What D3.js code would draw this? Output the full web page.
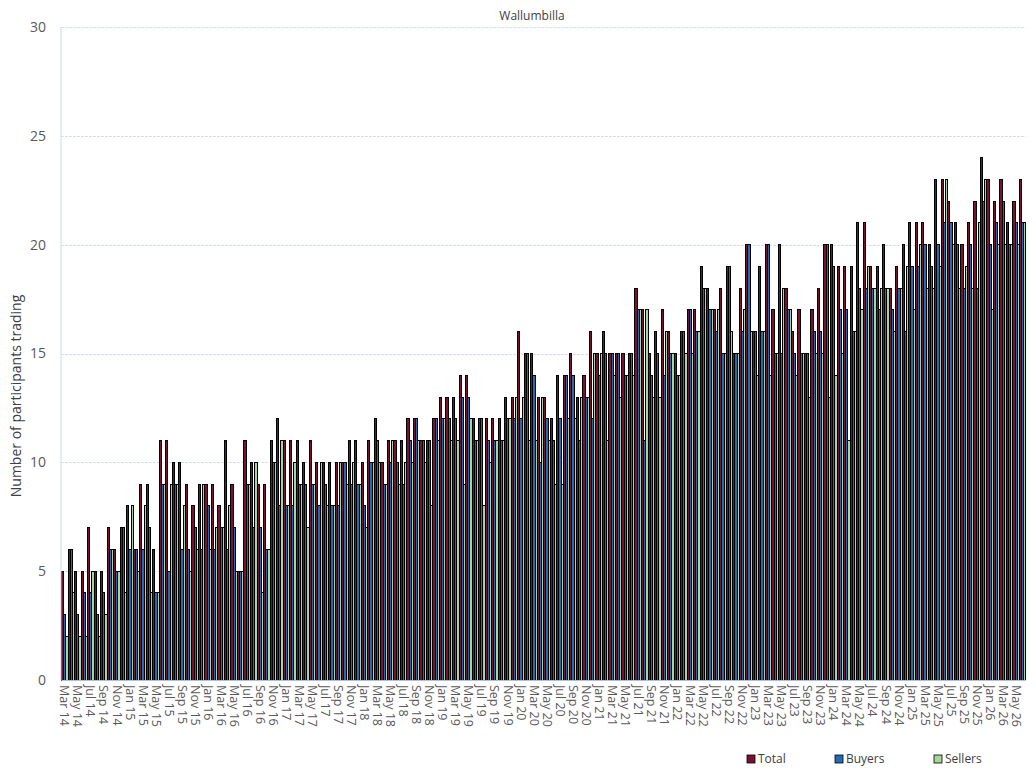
<!DOCTYPE html>
<html>
<head>
<meta charset="utf-8">
<script src="https://cdn.jsdelivr.net/npm/d3@7/dist/d3.min.js"></script>
<style>
  body { margin: 0; background: #fff; }
  text { font-family: "Open Sans", "Noto Sans", sans-serif; fill: #595959; }
</style>
</head>
<body>
<svg id="chart" width="1036" height="772"></svg>
<script>
// monthly participants trading, Mar 2014 .. Jun 2026
const startMonth = new Date(2014, 2, 1);
const total = [
  5, 6, 5, 5, 7, 5, 5, 7, 6, 7,
  8, 6, 9, 9, 6, 11, 11, 10, 10, 9,
  8, 9, 9, 9, 8, 11, 9, 5, 11, 10,
  9, 9, 11, 12, 11, 11, 11, 10, 11, 10,
  10, 10, 10, 10, 11, 11, 10, 11, 12, 10,
  11, 11, 11, 12, 12, 11, 11, 12, 13, 13,
  13, 14, 14, 12, 12, 12, 12, 12, 13, 13,
  16, 15, 15, 13, 13, 12, 14, 14, 15, 13,
  14, 16, 15, 16, 15, 15, 15, 15, 18, 17,
  15, 16, 17, 16, 15, 16, 17, 17, 19, 18,
  17, 18, 19, 15, 18, 20, 16, 19, 20, 17,
  20, 18, 16, 17, 15, 17, 18, 20, 20, 19,
  19, 19, 21, 21, 19, 19, 20, 18, 19, 20,
  21, 21, 21, 20, 23, 23, 22, 21, 20, 21,
  22, 24, 23, 22, 23, 21, 22, 23
];
const buyers = [
  3, 6, 3, 4, 4, 3, 4, 6, 5, 7,
  6, 6, 6, 7, 4, 9, 5, 9, 6, 6,
  7, 6, 8, 6, 7, 6, 7, 5, 9, 7,
  7, 6, 10, 8, 8, 8, 9, 9, 9, 8,
  9, 8, 8, 10, 9, 9, 8, 10, 11, 9,
  10, 10, 9, 11, 12, 11, 11, 12, 12, 12,
  12, 13, 13, 11, 12, 11, 11, 11, 12, 12,
  12, 15, 14, 10, 12, 11, 12, 14, 14, 11,
  13, 12, 14, 15, 15, 15, 14, 15, 17, 11,
  14, 15, 14, 15, 14, 16, 17, 16, 18, 17,
  16, 15, 19, 15, 16, 20, 16, 16, 20, 15,
  15, 17, 15, 15, 15, 16, 16, 20, 19, 17,
  17, 16, 18, 18, 18, 17, 18, 17, 18, 16,
  19, 19, 20, 19, 20, 21, 21, 20, 18, 20,
  18, 22, 20, 21, 22, 20, 21, 21
];
const sellers = [
  2, 4, 2, 2, 5, 2, 3, 6, 5, 4,
  8, 5, 8, 4, 4, 9, 9, 9, 8, 5,
  6, 9, 6, 7, 7, 8, 5, 5, 9, 10,
  4, 6, 10, 11, 8, 10, 9, 7, 9, 10,
  8, 8, 10, 9, 10, 9, 7, 10, 10, 9,
  11, 9, 10, 10, 11, 10, 8, 11, 12, 11,
  11, 9, 12, 11, 8, 10, 11, 11, 12, 13,
  13, 11, 11, 13, 11, 9, 9, 12, 12, 13,
  13, 15, 15, 11, 14, 13, 14, 14, 17, 17,
  13, 13, 16, 15, 14, 15, 15, 16, 18, 17,
  17, 15, 16, 15, 17, 16, 14, 16, 14, 15,
  18, 17, 14, 15, 13, 15, 15, 13, 14, 15,
  11, 16, 17, 19, 18, 18, 18, 16, 18, 19,
  17, 20, 18, 18, 19, 23, 20, 18, 19, 18,
  21, 23, 17, 20, 20, 20, 20, 21
];
const seriesNames = ["Total", "Buyers", "Sellers"];
const seriesColors = ["#7d1030", "#1f6db4", "#a6d69c"];
const yTicks = [0, 5, 10, 15, 20, 25, 30];

const fmt = d3.timeFormat("%b %y");
const months = total.map((_, i) => fmt(d3.timeMonth.offset(startMonth, i)));
const rows = months.map((m, i) => ({ month: m, values: [total[i], buyers[i], sellers[i]] }));

const svg = d3.select("#chart");
const plotLeft = 61.5, plotRight = 1026, plotTop = 27, plotBottom = 680;

const x0 = d3.scaleBand().domain(months).range([plotLeft, plotRight]).padding(0);
const x1 = d3.scaleBand().domain(seriesNames).range([0, x0.bandwidth()]).padding(0);
const y = d3.scaleLinear().domain([0, 30]).range([plotBottom, plotTop]);

// gridlines
svg.append("g")
  .selectAll("line")
  .data(yTicks.filter(t => t > 0))
  .join("line")
  .attr("x1", plotLeft).attr("x2", plotRight)
  .attr("y1", d => Math.round(y(d)) + 0.5).attr("y2", d => Math.round(y(d)) + 0.5)
  .attr("stroke", "#bcd3ea")
  .attr("stroke-dasharray", "2,2")
  .attr("stroke-width", 1);

// bars
const groups = svg.append("g")
  .attr("shape-rendering", "crispEdges")
  .selectAll("g")
  .data(rows)
  .join("g")
  .attr("transform", d => `translate(${x0(d.month)},0)`);

groups.selectAll("rect")
  .data(d => d.values.map((v, k) => ({ key: seriesNames[k], v: v, k: k })))
  .join("rect")
  .attr("x", d => x1(d.key))
  .attr("y", d => y(d.v))
  .attr("width", x1.bandwidth())
  .attr("height", d => plotBottom - y(d.v))
  .attr("fill", d => seriesColors[d.k])
  .attr("stroke", "#000")
  .attr("stroke-width", 1);

// axes lines
svg.append("line")
  .attr("x1", plotLeft).attr("x2", plotRight)
  .attr("y1", plotBottom + 0.5).attr("y2", plotBottom + 0.5)
  .attr("stroke", "#a9c4e0");
svg.append("line")
  .attr("x1", plotLeft - 0.5).attr("x2", plotLeft - 0.5)
  .attr("y1", plotTop).attr("y2", plotBottom)
  .attr("stroke", "#c9daea");

// y tick labels
svg.append("g")
  .selectAll("text")
  .data(yTicks)
  .join("text")
  .attr("x", 46)
  .attr("y", d => y(d))
  .attr("dy", "0.35em")
  .attr("text-anchor", "end")
  .style("font-size", "14px")
  .text(d => d);

// x tick labels, every second month
svg.append("g")
  .selectAll("text")
  .data(months.filter((m, i) => i % 2 === 0))
  .join("text")
  .attr("transform", d => `translate(${x0(d) + x0.bandwidth() / 2},${plotBottom + 5}) rotate(90)`)
  .attr("dy", "0.35em")
  .attr("text-anchor", "start")
  .style("font-size", "12.5px")
  .text(d => d);

// title
svg.append("text")
  .attr("x", 532).attr("y", 20)
  .attr("text-anchor", "middle")
  .style("font-size", "12px")
  .style("fill", "#404040")
  .text("Wallumbilla");

// y axis title
svg.append("text")
  .attr("transform", "translate(21,396) rotate(-90)")
  .attr("text-anchor", "middle")
  .style("font-size", "14px")
  .style("fill", "#404040")
  .text("Number of participants trading");

// legend
const legendX = [747, 835, 934];
const legend = svg.append("g")
  .selectAll("g")
  .data(seriesNames)
  .join("g")
  .attr("transform", (d, i) => `translate(${legendX[i]},755)`);
legend.append("rect")
  .attr("width", 8).attr("height", 8)
  .attr("fill", (d, i) => seriesColors[i])
  .attr("stroke", "#000")
  .attr("stroke-width", 0.8);
legend.append("text")
  .attr("x", 11).attr("y", 4)
  .attr("dy", "0.35em")
  .style("font-size", "12px")
  .style("fill", "#404040")
  .text(d => d);
</script>
</body>
</html>
